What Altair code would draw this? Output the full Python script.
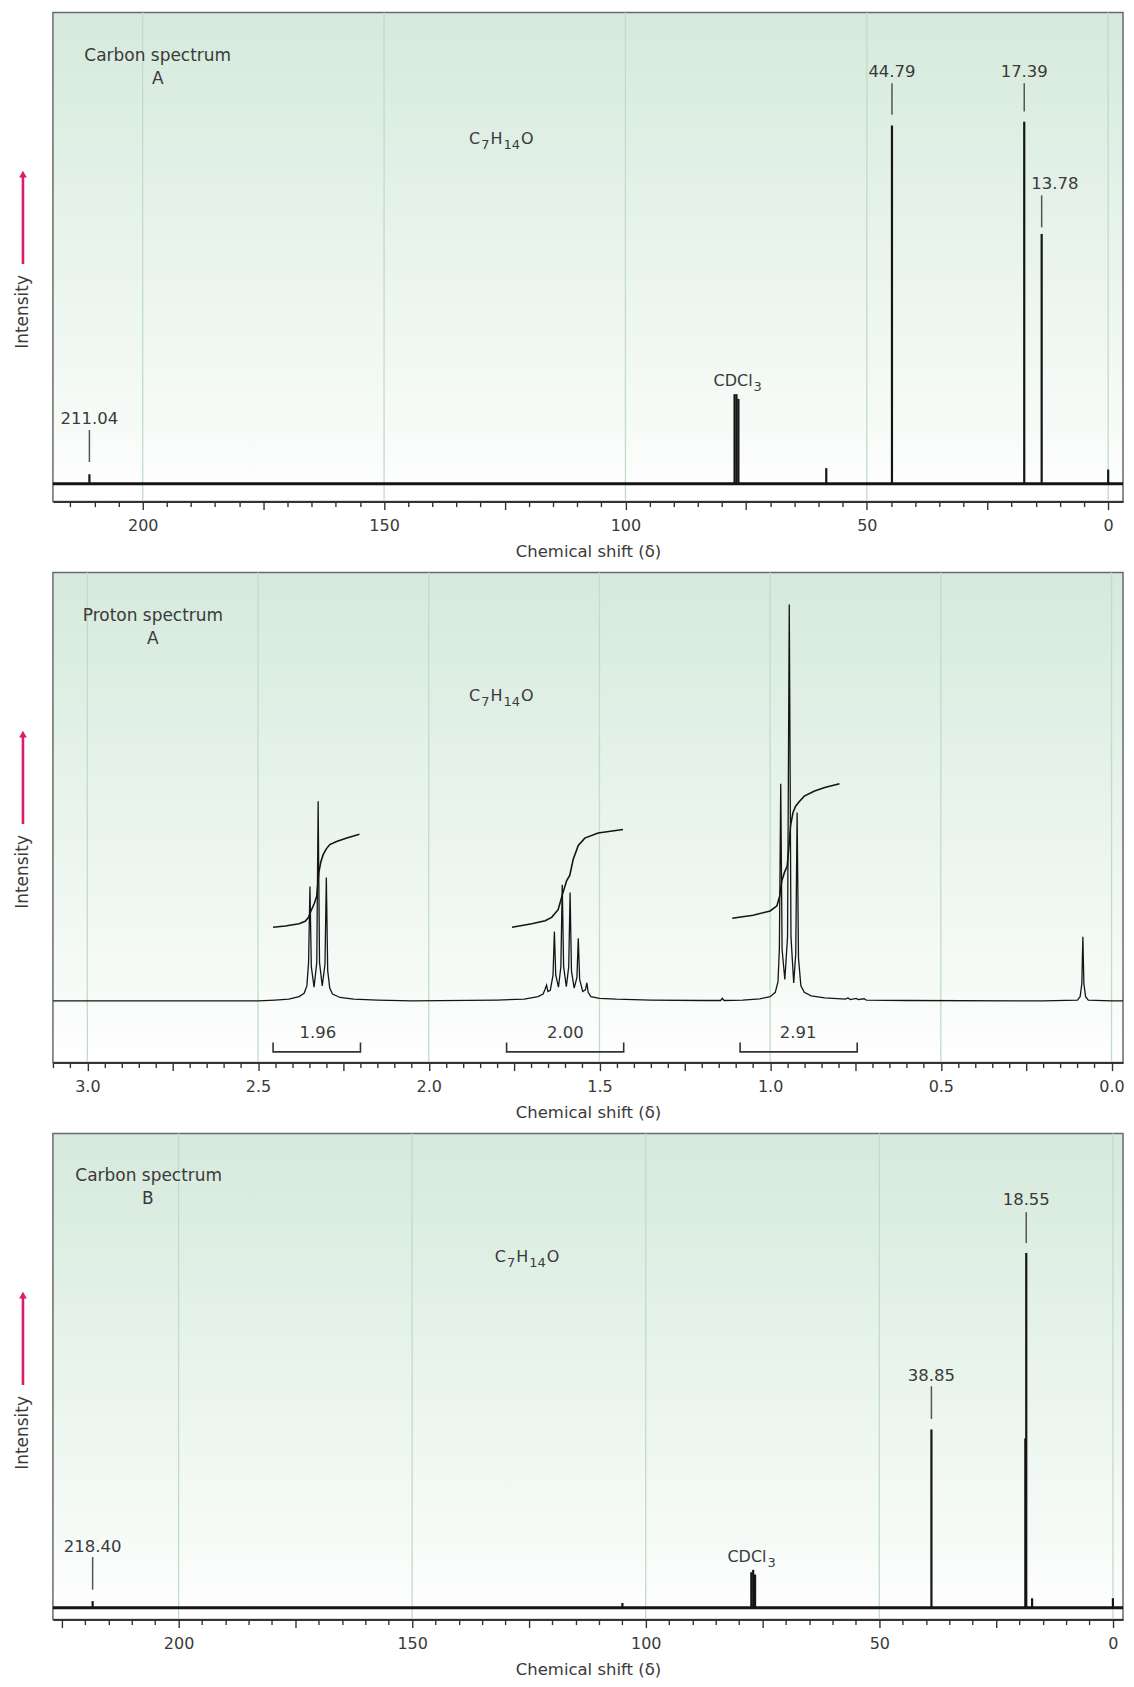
import altair as alt
import pandas as pd

FONT = "DejaVu Sans"
TXT = "#3a3a3a"
INK = "#151515"
LEAD = "#555555"
MAGENTA = "#d81d70"
GRID = "#c2dcc6"
BG_TOP = "#d5eadc"
FRAME = "#6a6a6a"

PLOT_W = 1072
HEIGHTS = [490, 491, 487]
AXIS_TITLE = "Chemical shift (δ)"

# formula C7H14O written as main text + subscripts
formula_parts = ["C", "7", "H", "14", "O"]
formula_sub = [False, True, False, True, False]
formula_dx = [0, 12.2, 21.5, 34.5, 52]
cdcl_parts = ["CDCl", "3"]
cdcl_sub = [False, True]
cdcl_dx = [0, 1]
cdcl_align = ["right", "left"]

# ---------------- Carbon spectrum A ----------------
ca_domain = [218.6, -3.07]
ca_ydomain = [-0.038, 1.0]
ca_ticks = list(range(215, -5, -5))
ca_major = [200, 150, 100, 50, 0]
ca_major_lbl = ["200", "150", "100", "50", "0"]
ca_peak_ppm = [211.04, 77.4, 77.0, 76.6, 58.4, 44.79, 17.39, 13.78, 0.0]
ca_peak_int = [0.02, 0.19, 0.19, 0.18, 0.033, 0.76, 0.768, 0.53, 0.03]
ca_lead_ppm = [211.04, 44.79, 17.39, 13.78]
ca_lead_top = [0.114, 0.85, 0.85, 0.612]
ca_lead_bot = [0.046, 0.783, 0.79, 0.544]
ca_lbl_text = ["211.04", "44.79", "17.39", "13.78"]
ca_lbl_ppm = [211.04, 44.79, 17.39, 11.06]
ca_lbl_int = [0.137, 0.873, 0.873, 0.635]
ca_title_text = ["Carbon spectrum", "A"]
ca_title_ppm = [196.9, 196.9]
ca_title_int = [0.907, 0.859]
ca_formula_pos = (132.4, 0.7215)
ca_cdcl_pos = (73.66, 0.207)

# ---------------- Proton spectrum A ----------------
pr_domain = [3.1009, -0.0336]
pr_ydomain = [-0.144, 1.0]
pr_ticks = [round(i * 0.05, 2) for i in range(62, -1, -1)]
pr_major = [3.0, 2.5, 2.0, 1.5, 1.0, 0.5, 0.0]
pr_major_lbl = ["3.0", "2.5", "2.0", "1.5", "1.0", "0.5", "0.0"]
pr_ppm = [3.10, 2.50, 2.45, 2.41, 2.38, 2.365, 2.357, 2.352, 2.348, 2.344, 2.336, 2.328,
          2.324, 2.320, 2.312, 2.304, 2.300, 2.296, 2.290, 2.282, 2.26, 2.22, 2.15, 2.05,
          1.80, 1.72, 1.68, 1.665, 1.659, 1.655, 1.651, 1.644, 1.636, 1.632, 1.628, 1.620,
          1.613, 1.609, 1.605, 1.597, 1.590, 1.586, 1.582, 1.574, 1.566, 1.562, 1.558,
          1.549, 1.541, 1.537, 1.533, 1.525, 1.50, 1.45, 1.35, 1.20, 1.145, 1.14, 1.135,
          1.08, 1.03, 1.00, 0.985, 0.977, 0.973, 0.969, 0.965, 0.957, 0.949, 0.944, 0.939,
          0.931, 0.925, 0.921, 0.917, 0.910, 0.900, 0.880, 0.84, 0.78, 0.772, 0.765, 0.748,
          0.742, 0.725, 0.718, 0.60, 0.20, 0.10, 0.092, 0.087, 0.084, 0.081, 0.076, 0.068,
          0.0, -0.0336]
pr_int = [0.0, 0.0, 0.002, 0.004, 0.010, 0.018, 0.035, 0.09, 0.267, 0.08, 0.032, 0.09,
          0.466, 0.09, 0.035, 0.085, 0.288, 0.07, 0.03, 0.016, 0.008, 0.004, 0.002, 0.0,
          0.002, 0.004, 0.010, 0.016, 0.028, 0.037, 0.022, 0.025, 0.06, 0.162, 0.06, 0.032,
          0.08, 0.271, 0.08, 0.033, 0.08, 0.253, 0.07, 0.03, 0.055, 0.146, 0.05,
          0.022, 0.026, 0.042, 0.02, 0.01, 0.006, 0.004, 0.002, 0.001, 0.001, 0.006, 0.001,
          0.002, 0.005, 0.01, 0.02, 0.045, 0.12, 0.507, 0.12, 0.05, 0.15, 0.925, 0.15,
          0.042, 0.11, 0.44, 0.10, 0.035, 0.02, 0.012, 0.007, 0.004, 0.007, 0.003, 0.006,
          0.003, 0.005, 0.002, 0.001, 0.0, 0.002, 0.01, 0.04, 0.150, 0.04, 0.01, 0.002,
          0.0, 0.0]
int1_ppm = [2.456, 2.42, 2.38, 2.362, 2.352, 2.345, 2.335, 2.328, 2.322, 2.316, 2.309, 2.300,
            2.29, 2.27, 2.24, 2.203]
int1_val = [0.172, 0.175, 0.180, 0.186, 0.195, 0.21, 0.228, 0.245, 0.30, 0.325, 0.342, 0.355,
            0.365, 0.372, 0.38, 0.389]
int2_ppm = [1.756, 1.698, 1.659, 1.640, 1.621, 1.609, 1.596, 1.587, 1.577, 1.562, 1.543, 1.504,
            1.431]
int2_val = [0.172, 0.180, 0.187, 0.195, 0.213, 0.247, 0.281, 0.293, 0.33, 0.363, 0.380, 0.392,
            0.40]
int3_ppm = [1.111, 1.05, 1.00, 0.98, 0.972, 0.966, 0.958, 0.950, 0.945, 0.940, 0.933, 0.925,
            0.915, 0.90, 0.87, 0.84, 0.797]
int3_val = [0.193, 0.200, 0.210, 0.222, 0.245, 0.28, 0.30, 0.315, 0.36, 0.41, 0.44, 0.455,
            0.465, 0.478, 0.49, 0.498, 0.507]
br_left = [2.456, 1.772, 1.088]
br_right = [2.200, 1.429, 0.745]
br_lbl = ["1.96", "2.00", "2.91"]
br_lbl_ppm = [2.325, 1.600, 0.918]
pr_title_text = ["Proton spectrum", "A"]
pr_title_ppm = [2.808, 2.808]
pr_title_int = [0.898, 0.845]
pr_formula_pos = (1.882, 0.70)

# ---------------- Carbon spectrum B ----------------
cb_domain = [226.9, -2.16]
cb_ydomain = [-0.025, 1.0]
cb_ticks = list(range(225, -5, -5))
cb_major = [200, 150, 100, 50, 0]
cb_major_lbl = ["200", "150", "100", "50", "0"]
cb_peak_ppm = [218.40, 105.0, 77.4, 77.0, 76.6, 38.85, 18.75, 18.55, 17.3, 0.0]
cb_peak_int = [0.014, 0.01, 0.075, 0.08, 0.07, 0.376, 0.357, 0.748, 0.02, 0.02]
cb_lead_ppm = [218.40, 38.85, 18.55]
cb_lead_top = [0.107, 0.467, 0.834]
cb_lead_bot = [0.038, 0.398, 0.769]
cb_lbl_text = ["218.40", "38.85", "18.55"]
cb_lbl_ppm = [218.40, 38.85, 18.55]
cb_lbl_int = [0.129, 0.489, 0.86]
cb_title_text = ["Carbon spectrum", "B"]
cb_title_ppm = [206.4, 206.6]
cb_title_int = [0.91, 0.862]
cb_formula_pos = (132.3, 0.7296)
cb_cdcl_pos = (74.15, 0.096)


def label_expr(vals, labels):
    expr = ""
    for v, t in zip(vals, labels):
        expr += f"datum.value == {v} ? '{t}' : "
    return expr + "''"


def make_x(domain, ticks, major, major_lbl, medium_step):
    med_test = f"abs(datum.value / {medium_step} - round(datum.value / {medium_step})) < 0.000001"
    return alt.X(
        "ppm:Q",
        scale=alt.Scale(domain=domain, nice=False, zero=False),
        axis=alt.Axis(
            values=ticks,
            labelExpr=label_expr(major, major_lbl),
            tickSize={"condition": {"test": med_test, "value": 8}, "value": 5},
            tickColor="#333333",
            tickWidth=1.4,
            domainColor="#333333",
            domainWidth=2,
            labelFont=FONT,
            labelFontSize=16,
            labelColor=TXT,
            labelPadding=8,
            labelOverlap=False,
            labelFlush=False,
            title=AXIS_TITLE,
            titleFont=FONT,
            titleFontSize=16.5,
            titleFontWeight="normal",
            titleColor=TXT,
            titlePadding=9.5,
            grid=False,
            zindex=1,
        ),
    )


def make_y(field, ydomain):
    return alt.Y(f"{field}:Q", scale=alt.Scale(domain=ydomain, nice=False, zero=False), axis=None)


def frame_layers(height, X, major):
    grad = alt.LinearGradient(
        gradient="linear",
        stops=[alt.GradientStop(color=BG_TOP, offset=0),
               alt.GradientStop(color="#f7fbf8", offset=0.85),
               alt.GradientStop(color="#ffffff", offset=1)],
        x1=0, x2=0, y1=0, y2=1,
    )
    one = alt.Data(values=[{}])
    bg = alt.Chart(one).mark_rect(fill=grad, stroke=FRAME, strokeWidth=1.5).encode(
        x=alt.value(0), x2=alt.value(PLOT_W), y=alt.value(0), y2=alt.value(height))
    grid = alt.Chart(pd.DataFrame({"ppm": major})).mark_rule(color=GRID, strokeWidth=1.3).encode(x=X)
    arrow = alt.Chart(one).mark_rule(color=MAGENTA, strokeWidth=2.6).encode(
        x=alt.value(-30), y=alt.value(164), y2=alt.value(252))
    head = alt.Chart(one).mark_point(shape="triangle-up", filled=True, size=60, color=MAGENTA,
                                     opacity=1, strokeWidth=0).encode(
        x=alt.value(-30), y=alt.value(162))
    inten = alt.Chart(one).mark_text(text="Intensity", angle=270, font=FONT, fontSize=17,
                                     color=TXT).encode(x=alt.value(-30), y=alt.value(300))
    return [bg, grid, arrow, head, inten]


def text_layer(X, ydomain, ppm, vals, texts, size):
    df = pd.DataFrame({"ppm": ppm, "int": vals, "text": texts})
    return alt.Chart(df).mark_text(font=FONT, fontSize=size, color=TXT).encode(
        x=X, y=make_y("int", ydomain), text="text:N")


def rich_layers(X, ydomain, pos, parts, subs, dxs, aligns=None, size=16):
    out = []
    for i, (t, s, d) in enumerate(zip(parts, subs, dxs)):
        al = aligns[i] if aligns else "left"
        df = pd.DataFrame({"ppm": [pos[0]], "int": [pos[1]], "text": [t]})
        out.append(alt.Chart(df).mark_text(
            font=FONT, fontSize=(13 if s else size), color=TXT, align=al,
            baseline="alphabetic", dx=d, dy=(5 if s else 0)).encode(
            x=X, y=make_y("int", ydomain), text="text:N"))
    return out


def carbon_panel(height, domain, ydomain, ticks, major, major_lbl, peak_ppm, peak_int,
                 lead_ppm, lead_top, lead_bot, lbl_text, lbl_ppm, lbl_int,
                 t_text, t_ppm, t_int, formula_pos, cdcl_pos):
    X = make_x(domain, ticks, major, major_lbl, 25)
    layers = frame_layers(height, X, major)
    base = alt.Chart(pd.DataFrame({"int": [0.0]})).mark_rule(color=INK, strokeWidth=3).encode(
        y=make_y("int", ydomain))
    peaks = alt.Chart(pd.DataFrame({"ppm": peak_ppm, "int": peak_int,
                                    "base": [0.0] * len(peak_ppm)})).mark_rule(
        color=INK, strokeWidth=2.2).encode(x=X, y=make_y("base", ydomain), y2="int:Q")
    leads = alt.Chart(pd.DataFrame({"ppm": lead_ppm, "top": lead_top, "int": lead_bot})).mark_rule(
        color=LEAD, strokeWidth=1.5).encode(x=X, y=make_y("int", ydomain), y2="top:Q")
    labels = text_layer(X, ydomain, lbl_ppm, lbl_int, lbl_text, 16.5)
    titles = text_layer(X, ydomain, t_ppm, t_int, t_text, 17)
    layers += [base, peaks, leads, labels, titles]
    layers += rich_layers(X, ydomain, formula_pos, formula_parts, formula_sub, formula_dx)
    layers += rich_layers(X, ydomain, cdcl_pos, cdcl_parts, cdcl_sub, cdcl_dx, cdcl_align)
    return alt.layer(*layers).properties(width=PLOT_W, height=height)


def proton_panel(height):
    X = make_x(pr_domain, pr_ticks, pr_major, pr_major_lbl, 0.25)
    layers = frame_layers(height, X, pr_major)
    spec = alt.Chart(pd.DataFrame({"ppm": pr_ppm, "int": pr_int})).mark_line(
        color=INK, strokeWidth=1.3).encode(x=X, y=make_y("int", pr_ydomain))
    rows = []
    for k, (p, v) in enumerate([(int1_ppm, int1_val), (int2_ppm, int2_val), (int3_ppm, int3_val)]):
        for a, b in zip(p, v):
            rows.append({"ppm": a, "int": b, "seg": k})
    integ = alt.Chart(pd.DataFrame(rows)).mark_line(color=INK, strokeWidth=1.6).encode(
        x=X, y=make_y("int", pr_ydomain), detail="seg:N")
    brows = []
    for k, (l, r) in enumerate(zip(br_left, br_right)):
        brows += [{"ppm": l, "int": -0.097, "seg": k, "o": 0},
                  {"ppm": l, "int": -0.119, "seg": k, "o": 1},
                  {"ppm": r, "int": -0.119, "seg": k, "o": 2},
                  {"ppm": r, "int": -0.097, "seg": k, "o": 3}]
    brackets = alt.Chart(pd.DataFrame(brows)).mark_line(color="#333333", strokeWidth=1.6).encode(
        x=X, y=make_y("int", pr_ydomain), detail="seg:N", order="o:Q")
    blabels = text_layer(X, pr_ydomain, br_lbl_ppm, [-0.074] * 3, br_lbl, 16.5)
    titles = text_layer(X, pr_ydomain, pr_title_ppm, pr_title_int, pr_title_text, 17)
    layers += [spec, integ, brackets, blabels, titles]
    layers += rich_layers(X, pr_ydomain, pr_formula_pos, formula_parts, formula_sub, formula_dx)
    return alt.layer(*layers).properties(width=PLOT_W, height=height)


p1 = carbon_panel(HEIGHTS[0], ca_domain, ca_ydomain, ca_ticks, ca_major, ca_major_lbl,
                  ca_peak_ppm, ca_peak_int, ca_lead_ppm, ca_lead_top, ca_lead_bot,
                  ca_lbl_text, ca_lbl_ppm, ca_lbl_int, ca_title_text, ca_title_ppm, ca_title_int,
                  ca_formula_pos, ca_cdcl_pos)
p2 = proton_panel(HEIGHTS[1])
p3 = carbon_panel(HEIGHTS[2], cb_domain, cb_ydomain, cb_ticks, cb_major, cb_major_lbl,
                  cb_peak_ppm, cb_peak_int, cb_lead_ppm, cb_lead_top, cb_lead_bot,
                  cb_lbl_text, cb_lbl_ppm, cb_lbl_int, cb_title_text, cb_title_ppm, cb_title_int,
                  cb_formula_pos, cb_cdcl_pos)

chart = alt.vconcat(p1, p2, p3, spacing=12).configure(
    padding={"left": 6, "top": 2, "right": 0, "bottom": 0},
    background="#ffffff",
).configure_view(strokeWidth=0)

chart.save("out.html", embed_options={"renderer": "svg", "actions": False})
